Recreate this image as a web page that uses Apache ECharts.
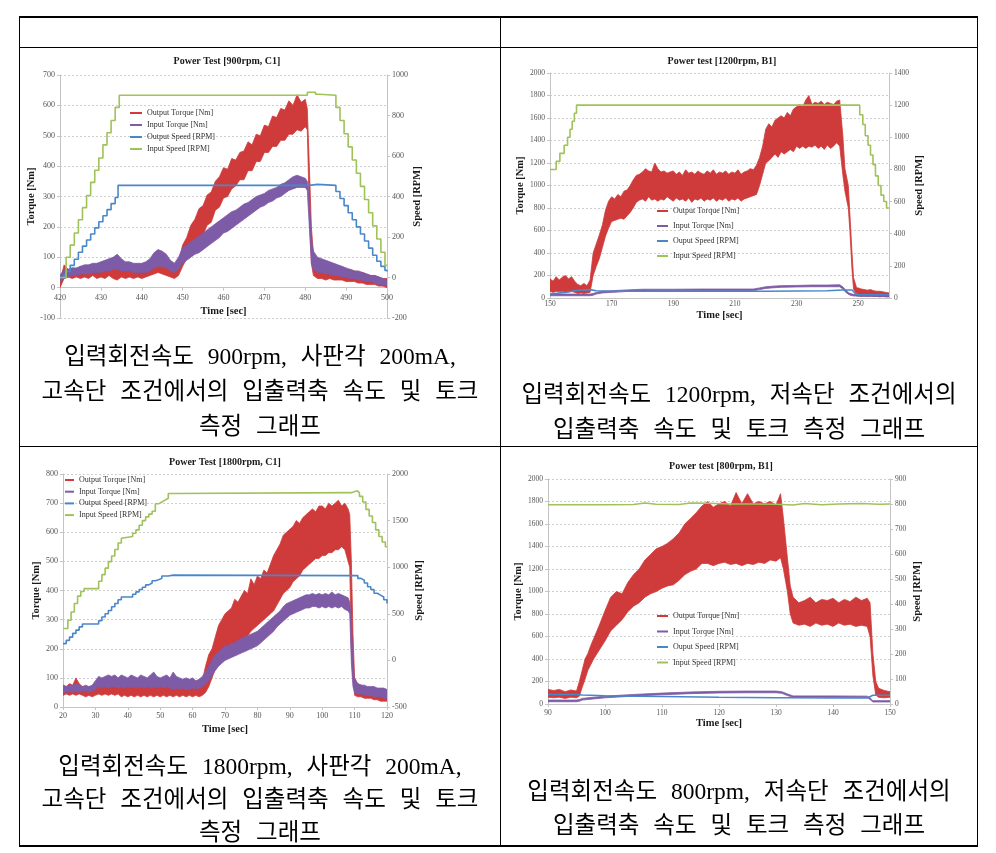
<!DOCTYPE html>
<html><head><meta charset="utf-8">
<script src="https://cdn.jsdelivr.net/npm/echarts@6/dist/echarts.min.js"></script>
<style>
html,body{margin:0;padding:0;background:#fff;}
#wrap{position:relative;width:996px;height:853px;overflow:hidden;background:#fff;}
#chart{position:absolute;left:0;top:0;width:996px;height:853px;}
.ln{position:absolute;background:#000;}
.cap{position:absolute;text-align:center;font-family:"Liberation Serif","Noto Sans CJK KR",serif;font-size:23.5px;color:#000;white-space:nowrap;word-spacing:8px;}
</style></head><body>
<div id="wrap">
<div id="chart"></div>
<div class="ln" style="left:19px;top:16px;width:959px;height:2px"></div>
<div class="ln" style="left:19px;top:47px;width:959px;height:1px"></div>
<div class="ln" style="left:19px;top:446px;width:959px;height:1px"></div>
<div class="ln" style="left:19px;top:845px;width:959px;height:2px"></div>
<div class="ln" style="left:19px;top:16px;width:1px;height:831px"></div>
<div class="ln" style="left:500px;top:16px;width:1px;height:831px"></div>
<div class="ln" style="left:977px;top:16px;width:1px;height:831px"></div>
<div class="cap" style="left:20px;width:480px;top:339px;line-height:35px">입력회전속도 900rpm, 사판각 200mA,<br>고속단 조건에서의 입출력축 속도 및 토크<br>측정 그래프</div>
<div class="cap" style="left:501px;width:476px;top:377px;line-height:35px">입력회전속도 1200rpm, 저속단 조건에서의<br>입출력축 속도 및 토크 측정 그래프</div>
<div class="cap" style="left:20px;width:480px;top:750px;line-height:33px">입력회전속도 1800rpm, 사판각 200mA,<br>고속단 조건에서의 입출력축 속도 및 토크<br>측정 그래프</div>
<div class="cap" style="left:501px;width:476px;top:774px;line-height:34px">입력회전속도 800rpm, 저속단 조건에서의<br>입출력축 속도 및 토크 측정 그래프</div>
</div>
<script>
const RED='#cf3a3a', PURPLE='#7e5ba6', BLUE='#4a87c9', GREEN='#9fc25a';
const SERIF='Liberation Serif', AXIS='#c4c4c4', LABEL='#555555';

// ---------- Chart 1: Power Test [900rpm, C1] ----------
const c1Title='Power Test [900rpm, C1]';
const c1XTicks=[420,430,440,450,460,470,480,490,500];
const c1T=[420,421,422,423,424,425,426,427,428,429,430,431,432,433,434,435,436,437,438,439,440,441,442,443,444,445,446,447,448,449,450,451,452,453,454,455,456,457,458,459,460,461,462,463,464,465,466,467,468,469,470,471,472,473,474,475,476,477,478,479,480,480.5,481,481.5,482,483,484,485,486,487,488,489,490,491,492,493,494,495,496,497,498,499,500];
const c1OutLo=[0,30,35,30,35,30,35,30,40,30, 35,30,40,30,25,35,30,35,30,35, 30,35,40,45,50,45,40,35,30,40, 70,95,125,135,165,175,205,215,255,265, 295,300,325,335,355,355,385,385,415,415, 445,445,465,465,485,485,505,505,520,515, 530, 520,250,80, 40,30,30,25,30,25,25,25,20,20, 20,15,15,10,10,10,5,5,0];
const c1OutHi=[20,75,60,65,60,70,65,70,65,75, 70,65,75,70,80,70,65,75,70,65, 75,70,80,110,125,115,100,80,70,85, 140,165,205,225,260,270,305,315,350,365, 395,390,425,420,445,450,480,470,505,500, 535,530,565,560,590,585,615,600,635,610, 620, 590,400,200, 110,95,85,80,75,75,70,65,60,60, 55,50,50,45,40,40,35,30,30];
const c1InLo=[20,30,35,40,40,45,45,45,50,50, 50,55,55,60,60,55,55,55,50,50, 50,50,55,65,70,70,65,55,50,60, 80,90,100,110,115,125,135,145,155,165, 180,185,195,205,215,225,235,245,255,265, 270,280,285,295,300,310,320,325,330,330, 330, 320,200,80, 60,50,50,45,45,40,40,35,35,30, 30,25,25,20,20,15,10,10,5];
const c1InHi=[40,60,60,65,65,70,75,75,80,80, 85,90,95,100,110,95,85,85,80,80, 80,85,95,115,125,120,110,90,80,100, 130,140,150,160,170,180,190,200,210,220, 230,240,250,255,265,275,280,290,300,305, 310,320,325,330,340,345,355,365,370,365, 360, 350,300,160, 120,100,95,90,85,80,75,70,65,60, 55,55,50,45,40,40,35,30,25];
const c1InSpeedT=[420,421.5,422.5,423.5,424.5,425.5,426.5,427.5,428.5,429.5,430.5,431.5,432.5,433.5,434.5,480,480.5,482.5,483.5,487.5,488.5,489.5,490.5,491.5,492.5,493.5,494.5,495.5,496.5,497.5,498.5,499.5,500];
const c1InSpeed=[0,100,160,220,285,345,405,470,530,590,655,715,775,840,900,900,915,905,900,840,775,710,645,580,515,450,385,320,255,190,125,60,60];
const c1OutSpeedT=[420,421,421.5,422.5,423.5,424.5,425.5,426.5,427.5,428.5,429.5,430.5,431.5,432.5,433.5,434.2,481,483,487.5,488.5,489.5,490.5,491.5,492.5,493.5,494.5,495.5,496.5,497.5,498.5,499.5,500];
const c1OutSpeed=[0,15,30,60,90,125,155,185,215,245,275,305,335,365,395,455,460,455,425,390,355,320,285,250,215,180,145,110,80,55,35,30];

// ---------- Chart 2: Power test [1200rpm, B1] ----------
const c2Title='Power test [1200rpm, B1]';
const c2XTicks=[150,170,190,210,230,250];
const c2T=[150,151,152,153,154,155,156,157,158,159,160,161,162,163,164,165,166,167,168,169,170,171,172,173,174,175,176,177,178,179,180,181,182,183,184,185,186,187,188,189,190,191,192,193,194,195,196,197,198,199,200,201,202,203,204,205,206,207,208,209,210,211,212,213,214,215,216,217,218,219,220,221,222,223,224,225,226,227,228,229,230,231,232,233,234,235,236,237,238,239,240,241,242,243,244,245,245.7,246.8,247.3,248,248.5,249.5,250,251,252,253,254,255,256,257,258,259,260];
const c2OutLo=[60,50,60,55,60,50,55,60,50,40, 45,40,45,50,200,280,350,450,550,620, 680,690,700,710,700,730,760,800,850,870, 880,860,900,870,880,860,880,870,900,880, 860,890,870,880,860,890,850,880,870,890, 860,880,870,890,860,880,870,890,860,880, 870,890,860,880,890,900,910,920,1000,1100, 1200,1220,1250,1280,1250,1300,1280,1300,1320,1300, 1350,1330,1350,1330,1350,1340,1360,1330,1350,1320, 1360,1330,1350,1380,1350, 1100,950,800,600,250,80,30, 20,15,20,15,20,15,15,10,15,10,10];
const c2OutHi=[170,150,190,160,185,200,170,190,150,120, 110,130,110,160,400,480,560,650,780,860, 900,880,920,900,950,960,1000,1050,1090,1100, 1120,1150,1130,1120,1200,1150,1120,1130,1110,1120, 1130,1100,1120,1090,1140,1110,1120,1100,1130,1110, 1100,1130,1110,1140,1100,1120,1110,1130,1100,1120, 1110,1140,1100,1120,1130,1150,1140,1180,1250,1350, 1500,1550,1520,1580,1600,1620,1600,1650,1620,1680, 1700,1720,1700,1760,1800,1720,1740,1730,1750,1720, 1740,1730,1720,1750,1760, 1450,1150,1000,750,400,180,90, 90,80,75,70,75,65,60,60,55,50,45];
const c2InT=[150,163,164,165,167,170,175,180,190,200,210,216,218,220,222,225,230,235,240,244,245,246,247,248,250,260];
const c2InLo=[20,20,25,35,45,50,58,62,65,65,65,65,75,85,90,95,98,100,100,100,80,50,30,20,15,12];
const c2InHi=[35,35,40,50,60,65,72,78,78,80,80,80,90,100,105,110,112,115,115,118,100,70,45,35,28,25];
const c2OutSpeedT=[150,155,158,160,163,165,170,180,200,220,240,245,248,249,250,260];
const c2OutSpeed=[25,35,45,50,52,45,42,42,42,42,45,50,50,30,20,20];
const c2InSpeedT=[150,152,153.2,154.6,155.7,156.5,157.2,157.9,158.6,250.5,251.5,252.3,253.2,254,254.8,255.6,256.5,257.4,258.3,259.2,260];
const c2InSpeed=[800,850,900,950,1000,1050,1100,1150,1200,1140,1080,1010,950,890,830,760,700,640,600,560,560];

// ---------- Chart 3: Power Test [1800rpm, C1] ----------
const c3Title='Power Test [1800rpm, C1]';
const c3XTicks=[20,30,40,50,60,70,80,90,100,110,120];
const c3T=[20,21,22,23,24,25,26,27,28,29,30,31,32,33,34,35,36,37,38,39,40,41,42,43,44,45,46,47,48,49,50,51,52,53,54,55,56,57,58,59,60,61,62,63,64,65,66,67,68,69,70,71,72,73,74,75,76,77,78,79,80,81,82,83,84,85,86,87,88,89,90,91,92,93,94,95,96,97,98,99,100,101,102,103,104,105,106,107,108,108.5,109,109.5,110,111,112,113,114,115,116,117,118,119,120];
const c3OutLo=[40,45,40,45,40,45,40,35,40,35, 40,45,40,45,40,45,40,45,35,40, 35,40,35,40,35,40,35,40,35,40, 35,40,35,40,35,40,35,40,35,40, 35,40,35,40,50,70,100,130,160,180, 190,200,210,215,220,230,240,245,260,270, 280,290,300,310,320,330,350,370,390,400, 410,430,440,450,470,480,490,500,510,510, 520,520,530,530,540,540,550,540,500, 480,200,100, 40,35,35,30,30,30,25,25,20,20,20];
const c3OutHi=[75,70,80,75,100,80,70,65,70,65, 75,80,75,85,80,75,85,80,75,80, 90,80,75,85,80,90,80,75,85,80, 75,85,80,75,85,80,75,80,75,85, 80,75,80,90,140,180,200,240,280,300, 320,330,340,370,360,380,400,390,440,420, 450,440,470,460,490,520,540,560,590,600, 610,620,640,630,650,660,670,680,670,690, 690,680,700,690,700,710,690,700,680, 660,500,250, 100,80,75,70,65,60,60,55,55,50,50];
const c3InLo=[50,50,55,50,55,50,55,55,50,55, 60,70,65,70,65,70,70,65,70,65, 70,65,70,65,70,65,70,65,70,65, 70,65,70,65,60,65,60,65,60,60, 65,60,65,70,80,90,110,125,140,150, 160,165,170,175,180,185,190,195,200,205, 210,220,230,240,250,260,275,285,295,305, 315,320,325,330,335,340,340,345,345,340, 345,340,345,340,345,340,345,335,330, 320,150,70, 50,45,45,40,40,40,35,35,35,30,30];
const c3InHi=[75,70,75,75,80,75,70,75,70,75, 90,105,100,105,110,105,110,100,110,105, 100,110,105,100,110,105,100,110,120,105, 100,105,110,100,120,105,100,95,100,95, 100,90,95,105,120,140,160,180,190,200, 210,210,220,220,230,235,240,245,250,255, 260,270,280,290,300,310,320,330,345,355, 360,365,370,375,380,385,385,390,385,390, 385,390,385,395,385,390,385,380,375, 360,300,150, 90,80,75,75,70,70,70,65,65,65,60];
const c3InSpeedT=[20,21.5,22.5,23.5,24.5,25.5,26.5,31,32,33,34,35,36,37,38,38.6,41.5,42.5,43.5,44.5,45.5,46.5,47.5,48.5,49.5,50.5,51.5,52.5,54,109,110.8,111.5,112.5,113.5,114.5,115.5,116.5,117.5,118.5,119.5,120];
const c3InSpeed=[343,430,520,610,690,740,770,850,920,990,1060,1120,1190,1260,1310,1330,1365,1400,1450,1500,1540,1570,1600,1680,1700,1720,1740,1790,1800,1820,1800,1760,1700,1620,1550,1480,1400,1330,1270,1220,1220];
const c3OutSpeedT=[20,21,22,23,24,25,26,31,32,33,34,35,36,37,38,41.5,42.5,43.5,44.5,45.5,46.5,47.5,48.5,49.5,50.5,52.5,54,110,111,112,113,114,115,116,117,118,119,120];
const c3OutSpeed=[180,215,250,290,325,360,390,425,465,500,535,575,610,650,680,710,735,760,785,810,830,855,865,880,905,915,910,910,880,860,830,790,760,720,700,680,650,610];

// ---------- Chart 4: Power test [800rpm, B1] ----------
const c4Title='Power test [800rpm, B1]';
const c4XTicks=[90,100,110,120,130,140,150];
const c4T=[90,91,92,93,94,95,95.5,96,96.5,97,97.5,98,99,100,101,102,103,104,105,106,107,108,109,110,111,112,113,114,115,116,117,118,119,120,121,122,123,124,125,126,127,128,129,130,130.8,131.3,132,132.5,133,134,135,136,137,138,139,140,141,142,143,144,145,146,146.5,147,147.5,148,149,150];
const c4OutLo=[60,55,60,50,60,55, 70,150,220,300,350,400, 480,560,650,700,750,820,870,900,950,980, 1000,1030,1050,1060,1100,1150,1180,1200,1250,1250, 1230,1250,1260,1240,1250,1230,1250,1240,1260,1250,1280,1270, 1300,1200,1000,800, 720,700,710,690,720,700,710,690,720,700,710,690,700,690, 600,250,80,60,55,60];
const c4OutHi=[130,120,130,110,125,115, 200,300,400,450,520,580, 700,830,950,1000,980,1080,1150,1200,1280,1330, 1380,1400,1430,1470,1520,1600,1650,1700,1760,1800, 1750,1780,1800,1760,1880,1780,1870,1780,1800,1780,1800,1770, 1870,1650,1300,1050, 950,900,920,950,900,930,920,940,900,930,910,950,920,940, 900,450,200,140,120,110];
const c4InT=[90,95,95.5,96,97,100,105,110,115,120,125,130,131,132,133,140,146,146.5,147,150];
const c4InLo=[20,20,25,35,40,55,70,82,92,98,100,100,95,75,60,60,58,40,18,18];
const c4InHi=[35,35,40,50,55,70,85,97,107,113,115,115,110,90,72,72,70,55,30,30];
const c4OutSpeedT=[90,95,96,100,105,110,120,130,132,140,146,147,150];
const c4OutSpeed=[38,38,36,33,31,30,27,25,25,24,24,35,35];
const c4InSpeedT=[90,95,100,105,107,109,113,115,118,122,126,130,133,135,138,141,145,148,150];
const c4InSpeed=[797,797,797,798,804,799,798,804,803,800,800,799,796,802,797,800,802,799,800];

const NAMES_A=['Output Torque [Nm]','Input Torque [Nm]','Output Speed [RPM]','Input Speed [RPM]'];
const NAMES_B=['Output Torque [Nm]','Input Torque [Nm]','Ouput Speed [RPM]','Input Speed [RPM]'];

function band(name, xi, yi, t, lo, hi, color){
  return {type:'custom', name, xAxisIndex:xi, yAxisIndex:yi, clip:true, silent:true,
    itemStyle:{color}, encode:{x:0, y:[1,2]},
    data:t.map((x,i)=>[x,lo[i],hi[i]]),
    renderItem:function(params, api){
      if(params.dataIndex!==0) return null;
      const pts=[];
      for(let i=0;i<t.length;i++) pts.push(api.coord([t[i],hi[i]]));
      for(let i=t.length-1;i>=0;i--) pts.push(api.coord([t[i],lo[i]]));
      return {type:'polygon', shape:{points:pts}, style:{fill:color, stroke:color, lineWidth:0.8}};
    }};
}
function speed(name, xi, yi, t, v, color, step){
  return {type:'line', name, xAxisIndex:xi, yAxisIndex:yi, step: step?'end':false,
    showSymbol:false, symbol:'none', silent:true, clip:true,
    lineStyle:{color, width:1.6}, itemStyle:{color}, data:t.map((x,i)=>[x,v[i]])};
}
const nameStyle={fontFamily:SERIF, fontSize:10.5, fontWeight:'bold', color:'#1a1a1a'};
const plain=function(v){ return String(v); };
function xAx(grid, min, max, interval, ticks, o){
  return {type:'value', gridIndex:grid, position:'bottom', offset:o.offset||0, min, max, interval,
    axisLine:{show:true, onZero:false, lineStyle:{color:AXIS,width:1}},
    axisTick:{show:o.tick!==false, length:3, lineStyle:{color:AXIS}},
    axisLabel:{fontFamily:SERIF, fontSize:o.fs, color:LABEL, margin:o.margin,
      formatter:function(v){ return ticks.indexOf(v)>=0 ? String(v) : ''; }},
    splitLine:{show:false}, axisPointer:{show:false},
    name:'Time [sec]', nameLocation:'middle', nameGap:o.nameGap, nameTextStyle:nameStyle};
}
function yAx(grid, pos, min, max, interval, name, gap, fs, split){
  return {type:'value', gridIndex:grid, position:pos, min, max, interval,
    axisLine:{show:true, onZero:false, lineStyle:{color:AXIS,width:1}},
    axisTick:{show:true, length:3, lineStyle:{color:AXIS}},
    axisLabel:{fontFamily:SERIF, fontSize:fs, color:LABEL, margin:5, formatter:plain},
    splitLine:{show:split, lineStyle:{color:'#cfcfcf', type:[2,2], width:1}},
    name, nameLocation:'middle', nameGap:gap, nameTextStyle:nameStyle};
}
function legend(left, top, gap, iw, names){
  const cols=[RED,PURPLE,BLUE,GREEN];
  return {orient:'vertical', left, top, itemGap:gap, itemWidth:iw, itemHeight:2, icon:'rect',
    selectedMode:false, padding:0, textStyle:{fontFamily:SERIF, fontSize:8, color:'#333'},
    data:names.map((n,i)=>({name:n, icon:'rect', itemStyle:{color:cols[i]}}))};
}
function ttl(text, x, y){
  return {text, left:x, top:y, textAlign:'center', padding:0,
    textStyle:{fontFamily:SERIF, fontSize:10, fontWeight:'bold', color:'#1a1a1a'}};
}

const option={
  animation:false,
  backgroundColor:'transparent',
  textStyle:{fontFamily:SERIF},
  title:[ttl(c1Title,227,56), ttl(c2Title,722,56), ttl(c3Title,225,457), ttl(c4Title,721,461)],
  legend:[legend(130,109,4,12,NAMES_A), legend(657,207,7,11,NAMES_B), legend(65,476,3.7,9,NAMES_A), legend(657,612,7.5,11,NAMES_B)],
  grid:[
    {left:60, top:75, width:327, height:243, outerBoundsMode:'none'},
    {left:550, top:73, width:339, height:225, outerBoundsMode:'none'},
    {left:63, top:474, width:324, height:233, outerBoundsMode:'none'},
    {left:548, top:479, width:342, height:225, outerBoundsMode:'none'}
  ],
  xAxis:[
    // chart 1: axis crosses the torque axis at 0 (one 100-Nm band above the -100 bottom)
    xAx(0,420,500,10,c1XTicks,{offset:-243/8, fs:8, margin:6, nameGap:18}),
    xAx(1,150,260,10,c2XTicks,{fs:7.5, margin:2, nameGap:12, tick:false}),
    xAx(2,20,120,10,c3XTicks,{fs:8, margin:5, nameGap:17}),
    xAx(3,90,150,10,c4XTicks,{fs:7.5, margin:5, nameGap:14})
  ],
  yAxis:[
    yAx(0,'left',-100,700,100,'Torque [Nm]',17,8,true),
    yAx(0,'right',-200,1000,200,'Speed [RPM]',25,8,false),
    yAx(1,'left',0,2000,200,'Torque [Nm]',23,7.5,true),
    yAx(1,'right',0,1400,200,'Speed [RPM]',25,7.5,false),
    yAx(2,'left',0,800,100,'Torque [Nm]',19,8,true),
    yAx(2,'right',-500,2000,500,'Speed [RPM]',27,8,false),
    yAx(3,'left',0,2000,200,'Torque [Nm]',22,7.5,true),
    yAx(3,'right',0,900,100,'Speed [RPM]',22,7.5,false)
  ],
  series:[
    band(NAMES_A[0],0,0,c1T,c1OutLo,c1OutHi,RED),
    band(NAMES_A[1],0,0,c1T,c1InLo,c1InHi,PURPLE),
    speed(NAMES_A[2],0,1,c1OutSpeedT,c1OutSpeed,BLUE,true),
    speed(NAMES_A[3],0,1,c1InSpeedT,c1InSpeed,GREEN,true),

    band(NAMES_B[0],1,2,c2T,c2OutLo,c2OutHi,RED),
    band(NAMES_B[1],1,2,c2InT,c2InLo,c2InHi,PURPLE),
    speed(NAMES_B[2],1,3,c2OutSpeedT,c2OutSpeed,BLUE,false),
    speed(NAMES_B[3],1,3,c2InSpeedT,c2InSpeed,GREEN,true),

    band(NAMES_A[0],2,4,c3T,c3OutLo,c3OutHi,RED),
    band(NAMES_A[1],2,4,c3T,c3InLo,c3InHi,PURPLE),
    speed(NAMES_A[2],2,5,c3OutSpeedT,c3OutSpeed,BLUE,true),
    speed(NAMES_A[3],2,5,c3InSpeedT,c3InSpeed,GREEN,true),

    band(NAMES_B[0],3,6,c4T,c4OutLo,c4OutHi,RED),
    band(NAMES_B[1],3,6,c4InT,c4InLo,c4InHi,PURPLE),
    speed(NAMES_B[2],3,7,c4OutSpeedT,c4OutSpeed,BLUE,false),
    speed(NAMES_B[3],3,7,c4InSpeedT,c4InSpeed,GREEN,false)
  ]
};
const chart=echarts.init(document.getElementById('chart'), null, {renderer:'canvas', width:996, height:853});
chart.setOption(option);
</script>
</body></html>
